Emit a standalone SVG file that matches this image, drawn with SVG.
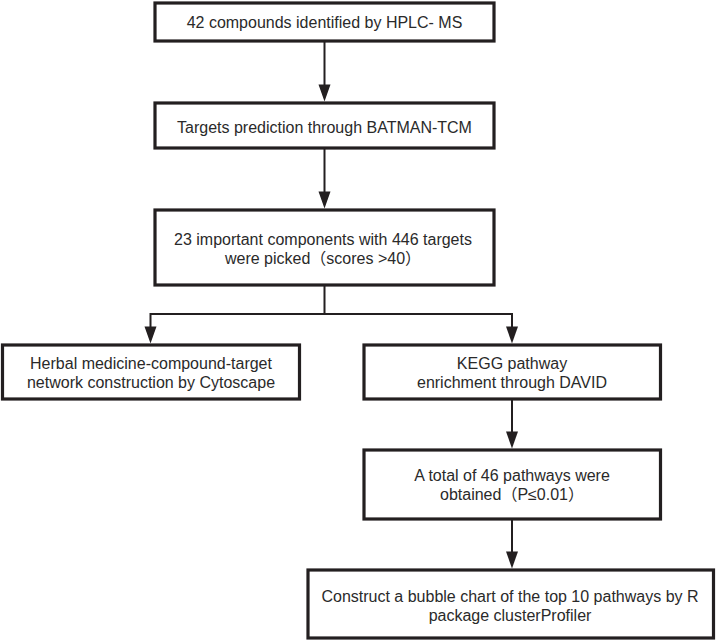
<svg xmlns="http://www.w3.org/2000/svg" width="717" height="641" viewBox="0 0 717 641">
<style>
.box{fill:#fff;stroke:#231f20;stroke-width:3.2}
.t{font-family:"Liberation Sans","Noto Sans CJK SC",Arial,sans-serif;font-size:16px;fill:#2a2a2a;text-anchor:middle}
.c{fill:none;stroke:#231f20;stroke-width:2}
.ah{fill:#231f20;stroke:none}
</style>
<defs>
<path id="head" d="M-6,-17 L6,-17 L0,0 Z"/>
</defs>
<rect width="717" height="641" fill="#fff"/>
<g id="connectors">
<line class="c" x1="324.5" y1="42" x2="324.5" y2="90"/>
<use href="#head" class="ah" x="324.5" y="101.5"/>
<line class="c" x1="324.5" y1="149" x2="324.5" y2="197"/>
<use href="#head" class="ah" x="324.5" y="208.5"/>
<polyline class="c" points="324.5,286 324.5,314 150.5,314 150.5,332"/>
<use href="#head" class="ah" x="150.5" y="343.5"/>
<polyline class="c" points="324.5,314 512,314 512,332"/>
<use href="#head" class="ah" x="512" y="343.5"/>
<line class="c" x1="512" y1="400" x2="512" y2="437"/>
<use href="#head" class="ah" x="512" y="448.5"/>
<line class="c" x1="512" y1="520" x2="512" y2="557"/>
<use href="#head" class="ah" x="512" y="568.5"/>
</g>
<g id="n1">
<rect class="box" x="155" y="3" width="339" height="38"/>
<text class="t" x="324.5" y="28">42 compounds identified by HPLC- MS</text>
</g>
<g id="n2">
<rect class="box" x="155" y="103" width="339" height="45"/>
<text class="t" x="324.5" y="133">Targets prediction through BATMAN-TCM</text>
</g>
<g id="n3">
<rect class="box" x="155" y="210" width="339" height="75"/>
<text class="t" x="323" y="245">23 important components with 446 targets</text>
<text class="t" x="323" y="264">were picked（scores &gt;40）</text>
</g>
<g id="n4">
<rect class="box" x="2.5" y="345" width="297" height="54"/>
<text class="t" x="151" y="369">Herbal medicine-compound-target</text>
<text class="t" x="151" y="388">network construction by Cytoscape</text>
</g>
<g id="n5">
<rect class="box" x="364" y="345" width="296.5" height="54"/>
<text class="t" x="512" y="369">KEGG pathway</text>
<text class="t" x="512" y="388">enrichment through DAVID</text>
</g>
<g id="n6">
<rect class="box" x="364" y="450" width="296.5" height="69"/>
<text class="t" x="512" y="481">A total of 46 pathways were</text>
<text class="t" x="512" y="500">obtained（P≤0.01）</text>
</g>
<g id="n7">
<rect class="box" x="308" y="570" width="405.5" height="68"/>
<text class="t" x="510" y="602">Construct a bubble chart of the top 10 pathways by R</text>
<text class="t" x="510" y="621">package clusterProfiler</text>
</g>
</svg>
